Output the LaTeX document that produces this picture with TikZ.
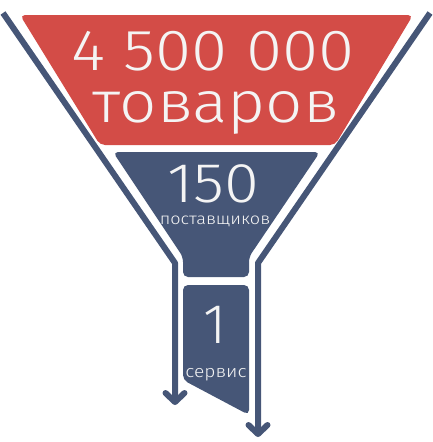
\documentclass[tikz,border=0pt]{standalone}
\usepackage{fontspec}
\setmainfont{Fira Sans}[UprightFont = * Light]
\usepackage{tikz}
\usetikzlibrary{arrows.meta, positioning}
\definecolor{funnelred}{HTML}{D34C47}
\definecolor{funnelblue}{HTML}{465677}
\definecolor{labelwhite}{HTML}{F4F4F4}
\newcommand{\widetext}[1]{\scalebox{1.13}[1]{#1}}

\begin{document}
\begin{tikzpicture}[
    x=1pt, y=-1pt,
    stage/.style={rounded corners=5pt},
    bigtext/.style={text=labelwhite, anchor=base, inner sep=0pt, font=\fontsize{58}{58}\selectfont},
    smalltext/.style={text=labelwhite, anchor=base, inner sep=0pt, font=\fontsize{16}{16}\selectfont},
    arrow/.style={-{Straight Barb[round, length=9pt, width=19pt]}, line width=6pt, color=funnelblue, line join=round}
]
\useasboundingbox (0,0) rectangle (433,442);

% funnel stages
\fill[funnelred, stage] (20,15) -- (413,15) -- (335,145) -- (100,145) -- cycle;
\fill[funnelblue, stage] (113,152) -- (320,152) -- (249,257) -- (249,277) -- (183,277) -- (183,257) -- cycle;
\fill[funnelblue, stage] (183,285) -- (249,285) -- (249,415) -- (183,380) -- cycle;

\node[bigtext] (goods) at (213,70) {\widetext{4 500 000}};
\node[bigtext] (goodsword) at (216,122) {\widetext{товаров}};
\node[bigtext, font=\fontsize{56}{56}\selectfont] (suppliers) at (213,202) {\widetext{150}};
\node[smalltext] (supplierword) at (215,224) {\widetext{поставщиков}};
\node[bigtext, font=\fontsize{56}{56}\selectfont] (service) at (215,343) {1};
\node[smalltext, font=\fontsize{17}{17}\selectfont] (serviceword) at (216,377) {\widetext{сервис}};

% funnel walls
\coordinate (lefttop) at (3,13);
\coordinate (leftbend) at (175,263);
\coordinate (leftend) at (175,405);
\coordinate (righttop) at (430,13);
\coordinate (rightbend) at (258,263);
\coordinate (rightend) at (258,437);

\draw[arrow] (lefttop) -- (leftbend) -- (leftend);
\draw[arrow] (righttop) -- (rightbend) -- (rightend);
\end{tikzpicture}
\end{document}
